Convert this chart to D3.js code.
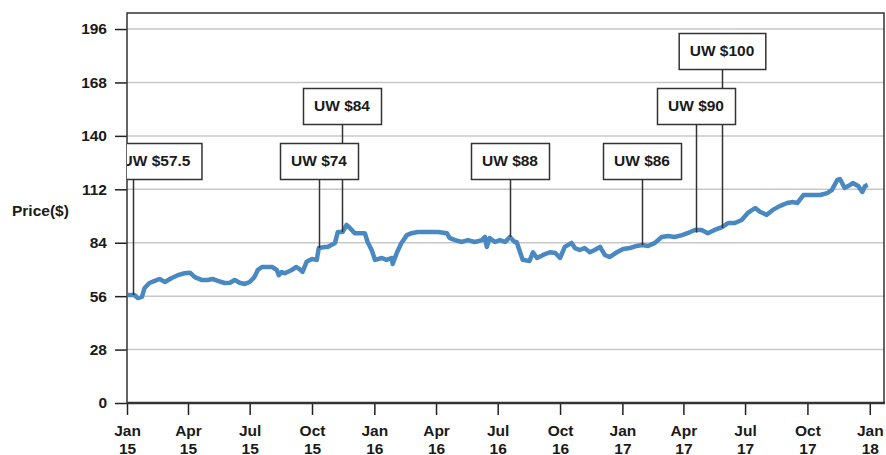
<!DOCTYPE html>
<html>
<head>
<meta charset="utf-8">
<script src="https://cdn.jsdelivr.net/npm/d3@7"></script>
<style>
    body { margin: 0; background: #fff; }
    text { font-family: "Liberation Sans", Arial, sans-serif; font-weight: bold; font-size: 15.5px; fill: #1a1a1a; }
</style>
</head>
<body>
<svg id="chart_svg" width="886" height="455"></svg>
<script>
// price series
const priceDates = [
    "2015-01-02", "2015-01-12", "2015-01-17", "2015-01-23", "2015-01-27", "2015-02-03", "2015-02-11", "2015-02-18",
    "2015-02-26", "2015-03-08", "2015-03-17", "2015-03-27", "2015-04-04", "2015-04-11", "2015-04-21", "2015-04-30",
    "2015-05-07", "2015-05-15", "2015-05-25", "2015-06-02", "2015-06-09", "2015-06-16", "2015-06-24", "2015-07-01",
    "2015-07-08", "2015-07-13", "2015-07-19", "2015-08-03", "2015-08-10", "2015-08-13", "2015-08-17", "2015-08-22",
    "2015-09-01", "2015-09-08", "2015-09-13", "2015-09-17", "2015-09-23", "2015-10-01", "2015-10-08", "2015-10-11",
    "2015-10-20", "2015-10-24", "2015-11-04", "2015-11-08", "2015-11-15", "2015-11-21", "2015-11-26", "2015-12-03",
    "2015-12-13", "2015-12-18", "2015-12-22", "2015-12-28", "2016-01-02", "2016-01-12", "2016-01-19", "2016-01-27",
    "2016-01-28", "2016-02-03", "2016-02-10", "2016-02-18", "2016-02-25", "2016-03-05", "2016-03-20", "2016-04-04",
    "2016-04-17", "2016-04-21", "2016-04-29", "2016-05-09", "2016-05-18", "2016-05-28", "2016-06-08", "2016-06-12",
    "2016-06-15", "2016-06-19", "2016-06-27", "2016-07-04", "2016-07-12", "2016-07-19", "2016-07-26", "2016-07-29",
    "2016-08-03", "2016-08-07", "2016-08-17", "2016-08-22", "2016-08-28", "2016-09-06", "2016-09-16", "2016-09-24",
    "2016-10-01", "2016-10-08", "2016-10-18", "2016-10-23", "2016-10-30", "2016-11-06", "2016-11-14", "2016-11-21",
    "2016-11-29", "2016-12-06", "2016-12-13", "2016-12-24", "2017-01-02", "2017-01-12", "2017-01-22", "2017-01-30",
    "2017-02-08", "2017-02-18", "2017-02-28", "2017-03-09", "2017-03-19", "2017-03-30", "2017-04-11", "2017-04-18",
    "2017-04-28", "2017-05-07", "2017-05-17", "2017-05-28", "2017-06-06", "2017-06-16", "2017-06-26", "2017-07-05",
    "2017-07-16", "2017-07-23", "2017-08-02", "2017-08-11", "2017-08-21", "2017-09-01", "2017-09-10", "2017-09-16",
    "2017-09-25", "2017-10-05", "2017-10-20", "2017-10-30", "2017-11-06", "2017-11-14", "2017-11-18", "2017-11-25",
    "2017-12-03", "2017-12-07", "2017-12-15", "2017-12-21", "2017-12-25", "2017-12-29"
];
const priceValues = [
    56.6, 56.6, 55.0, 55.6, 60.3, 62.9, 64.0, 65.0,
    63.4, 65.5, 67.0, 68.0, 68.3, 66.0, 64.5, 64.5,
    65.0, 64.0, 62.9, 63.0, 64.5, 63.0, 62.4, 63.4,
    66.0, 69.7, 71.3, 71.3, 69.7, 67.0, 68.6, 68.0,
    69.7, 71.3, 70.0, 68.7, 74.0, 75.5, 75.0, 81.2,
    81.8, 81.8, 83.9, 89.6, 89.6, 93.3, 91.7, 89.0,
    89.0, 89.0, 84.4, 80.2, 75.0, 76.0, 75.0, 76.0,
    72.9, 78.6, 83.9, 88.0, 89.0, 89.6, 89.6, 89.6,
    89.0, 86.5, 85.4, 84.4, 85.4, 84.4, 85.4, 87.0,
    81.8, 86.5, 84.4, 85.4, 84.4, 87.0, 84.4, 84.4,
    79.0, 75.0, 74.4, 79.0, 76.0, 77.6, 79.0, 78.6,
    76.0, 81.8, 83.9, 81.2, 80.2, 81.2, 79.0, 80.2,
    81.8, 77.6, 76.5, 79.0, 80.7, 81.2, 82.3, 82.8,
    82.3, 83.9, 87.0, 87.5, 87.0, 88.0, 89.6, 90.7,
    90.7, 89.0, 90.7, 92.2, 94.3, 94.3, 95.9, 99.6,
    102.2, 100.2, 98.6, 101.2, 103.2, 104.8, 105.3, 104.8,
    109.0, 109.0, 109.0, 110.0, 111.6, 116.9, 117.4, 112.7,
    114.3, 115.3, 113.7, 110.6, 113.7, 114.3
];

// axis ticks
const yTicks = [0, 28, 56, 84, 112, 140, 168, 196];
const xTickDates = ["2015-01-01", "2015-04-01", "2015-07-01", "2015-10-01", "2016-01-01", "2016-04-01", "2016-07-01",
    "2016-10-01", "2017-01-01", "2017-04-01", "2017-07-01", "2017-10-01", "2018-01-01"];
const xTickMonths = ["Jan", "Apr", "Jul", "Oct", "Jan", "Apr", "Jul", "Oct", "Jan", "Apr", "Jul", "Oct", "Jan"];
const xTickYears = ["15", "15", "15", "15", "16", "16", "16", "16", "17", "17", "17", "17", "18"];

// rating notes
const noteLabels = ["UW $57.5", "UW $74", "UW $84", "UW $88", "UW $86", "UW $90", "UW $100"];
const noteDates = ["2015-01-10", "2015-10-11", "2015-11-14", "2016-07-19", "2017-01-30", "2017-04-19", "2017-05-28"];
const notePrices = [56.6, 81.2, 89.6, 87.0, 82.8, 89.3, 91.8];

// note box layout: stacking row and sideways shift
const noteRows = [0, 0, 1, 0, 0, 1, 2];
const noteShift = [23, 0, 0, 0, 0, 0, 0];

const parseDate = d3.timeParse("%Y-%m-%d");

drawChart();

function drawChart() {
    const svg = d3.select("#chart_svg");

    //plot area
    const left = 127, right = 884, top = 13, bottom = 403;

    let x = d3.scaleTime()
        .domain([parseDate("2015-01-01"), parseDate("2018-01-22")])
        .range([left, right]);

    let y = d3.scaleLinear()
        .domain([0, 204.4])
        .range([bottom, top]);

    svg.append("defs").append("clipPath")
        .attr("id", "plotclip")
        .append("rect")
        .attr("x", left)
        .attr("y", top)
        .attr("width", right - left)
        .attr("height", bottom - top);

    //grid lines
    svg.append("g")
        .selectAll("line")
        .data(yTicks.filter(function (d) { return d > 0; }))
        .enter().append("line")
        .attr("x1", left)
        .attr("x2", right)
        .attr("y1", function (d) { return y(d); })
        .attr("y2", function (d) { return y(d); })
        .attr("stroke", "#c8c8c8")
        .attr("stroke-width", 1.5);

    //y axis
    let yAxis = svg.append("g")
        .attr("transform", "translate(" + left + ",0)")
        .call(d3.axisLeft(y).tickValues(yTicks).tickSize(12).tickPadding(8));
    yAxis.select(".domain").remove();
    yAxis.selectAll(".tick line").attr("stroke", "#222").attr("stroke-width", 1.5);
    yAxis.selectAll(".tick text").attr("fill", "#1a1a1a").style("font-size", "15.5px");

    //x axis, two line labels
    let xAxis = svg.append("g")
        .attr("transform", "translate(0," + bottom + ")")
        .call(d3.axisBottom(x).tickValues(xTickDates.map(parseDate)).tickSize(12).tickFormat(""));
    xAxis.select(".domain").remove();
    xAxis.selectAll(".tick line").attr("stroke", "#222").attr("stroke-width", 1.5);
    xAxis.selectAll(".tick").each(function (d, i) {
        let t = d3.select(this).append("text")
            .attr("text-anchor", "middle")
            .attr("fill", "#1a1a1a");
        t.append("tspan").attr("x", 0).attr("y", 33).text(xTickMonths[i]);
        t.append("tspan").attr("x", 0).attr("y", 51).text(xTickYears[i]);
    });

    //frame
    svg.append("path")
        .attr("d", "M" + left + "," + bottom + "V" + top + "H" + right + "V" + bottom)
        .attr("fill", "none")
        .attr("stroke", "#333")
        .attr("stroke-width", 1.5);
    svg.append("line")
        .attr("x1", left)
        .attr("x2", right + 1)
        .attr("y1", bottom)
        .attr("y2", bottom)
        .attr("stroke", "#333")
        .attr("stroke-width", 2.5);

    //y label
    svg.append("text")
        .attr("x", 12)
        .attr("y", 216)
        .text("Price($)");

    //price line
    const series = priceDates.map(function (d, i) { return { date: parseDate(d), price: priceValues[i] }; });
    let line = d3.line()
        .x(function (d) { return x(d.date); })
        .y(function (d) { return y(d.price); });

    svg.append("path")
        .datum(series)
        .attr("clip-path", "url(#plotclip)")
        .attr("d", line)
        .attr("fill", "none")
        .attr("stroke", "#4a88c2")
        .attr("stroke-width", 4.5)
        .attr("stroke-linejoin", "round");

    //notes: leaders first, boxes on top
    const notes = noteLabels.map(function (d, i) {
        return { label: d, date: parseDate(noteDates[i]), price: notePrices[i], row: noteRows[i], shift: noteShift[i] };
    });
    const boxH = 36, rowTop = 143, rowStep = 55;

    let noteLayer = svg.append("g").attr("clip-path", "url(#plotclip)");

    noteLayer.selectAll(".leader")
        .data(notes)
        .enter().append("line")
        .attr("class", "leader")
        .attr("x1", function (d) { return Math.round(x(d.date)) + 0.5; })
        .attr("x2", function (d) { return Math.round(x(d.date)) + 0.5; })
        .attr("y1", function (d) { return rowTop - d.row * rowStep + boxH; })
        .attr("y2", function (d) { return y(d.price); })
        .attr("stroke", "#333")
        .attr("stroke-width", 1.5);

    let boxes = noteLayer.selectAll(".notebox")
        .data(notes)
        .enter().append("g")
        .attr("class", "notebox")
        .attr("transform", function (d) {
            return "translate(" + (Math.round(x(d.date)) + d.shift) + "," + (rowTop - d.row * rowStep) + ")";
        });

    let rects = boxes.append("rect");
    boxes.append("text")
        .attr("x", 0)
        .attr("y", 23)
        .attr("text-anchor", "middle")
        .text(function (d) { return d.label; });

    rects.each(function () {
        let w = this.parentNode.querySelector("text").getComputedTextLength() + 22;
        d3.select(this)
            .attr("x", -w / 2 + 0.5)
            .attr("y", 0.5)
            .attr("width", w)
            .attr("height", boxH)
            .attr("fill", "#fff")
            .attr("stroke", "#333")
            .attr("stroke-width", 1.5);
    });
}
</script>
</body>
</html>
